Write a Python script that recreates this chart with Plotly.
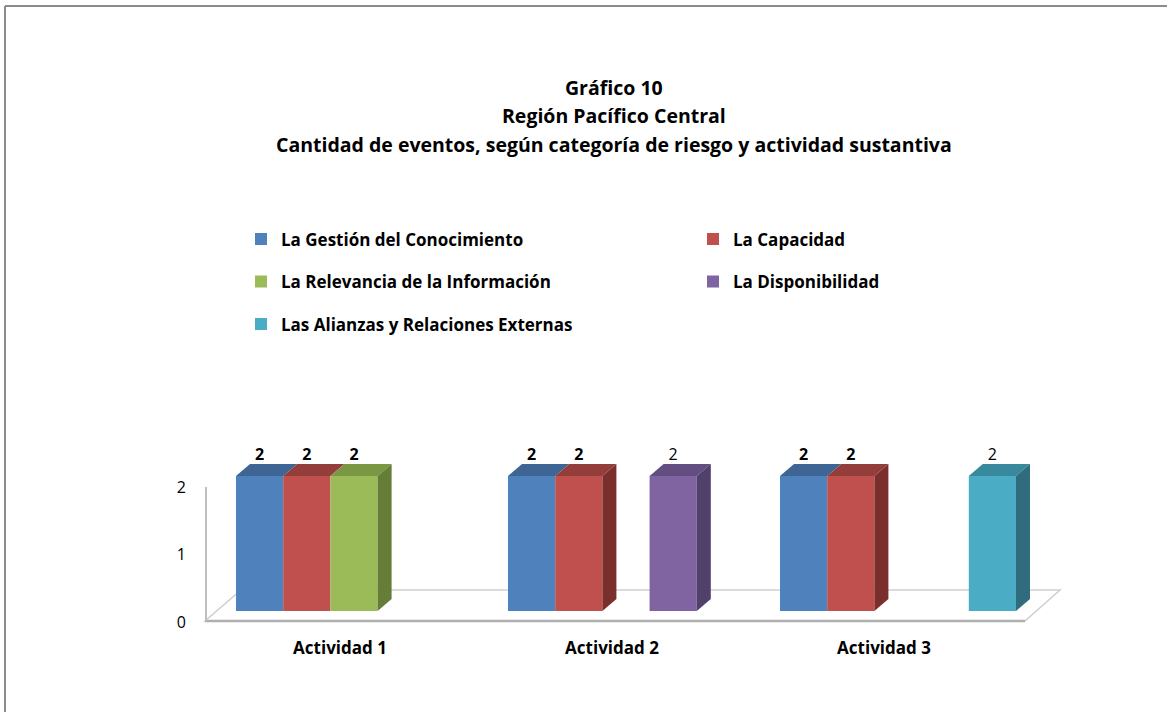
import plotly.graph_objects as go

# ---------------- data ----------------
categories = ["Actividad 1", "Actividad 2", "Actividad 3"]
series_names = [
    "La Gestión del Conocimiento",
    "La Capacidad",
    "La Relevancia de la Información",
    "La Disponibilidad",
    "Las Alianzas y Relaciones Externas",
]
gestion = [2, 2, 2]
capacidad = [2, 2, 2]
relevancia = [2, None, None]
disponibilidad = [None, 2, None]
alianzas = [None, None, 2]
series_values = [gestion, capacidad, relevancia, disponibilidad, alianzas]
y_ticks = [0, 1, 2]

# ---------------- style ----------------
front_colors = ["#4F81BD", "#C0504D", "#9BBB59", "#8064A2", "#4BACC6"]
top_colors = ["#3E6593", "#943E3C", "#7A9744", "#634E82", "#38889E"]
side_colors = ["#355580", "#7A2F2D", "#667D37", "#51406A", "#2F6C7D"]
label_bold = [True, True, True, False, False]
legend_of = ["legend", "legend2", "legend", "legend2", "legend"]
FONT = "Open Sans"
LEG_SIZE = 17

W, H = 1167, 712
ML, MR, MT, MB = 218, 133, 440, 101
PW, PH = W - ML - MR, H - MT - MB
Y_TOP = 2.533
BARGAP = 0.1324
n = len(series_values)
group = 1 - BARGAP
slot = group / n
# depth of the 3D effect, in axis units (14 px right, 12 px up)
DX = 14 / (PW / 3)
DY = 12 / (PH / Y_TOP)


def px_x(px):
    return (px - ML) / PW


def px_y(py):
    return (H - MB - py) / PH


fig = go.Figure()
xpos = list(range(len(categories)))

# front faces (real bars)
for i, (name, vals) in enumerate(zip(series_names, series_values)):
    fig.add_trace(go.Bar(
        x=xpos, y=vals, name=name,
        marker=dict(color=front_colors[i], line=dict(width=0)),
        legend=legend_of[i], legendgroup=name,
        hoverinfo="skip",
    ))

# 3D top / side faces and value labels derived from the same data
for i, vals in enumerate(series_values):
    tx, ty, sx, sy, lx, ly, lt = [], [], [], [], [], [], []
    for j, v in enumerate(vals):
        if v is None:
            continue
        L = j - group / 2 + i * slot
        R = L + slot
        tx += [L, R, R + DX, L + DX, L, None]
        ty += [v, v, v + DY, v + DY, v, None]
        nxt = series_values[i + 1][j] if i + 1 < n else None
        if nxt is None:
            sx += [R, R + DX, R + DX, R, R, None]
            sy += [0, DY, v + DY, v, 0, None]
        lx.append((L + R) / 2)
        ly.append(v + DY)
        lt.append(("<b>%g</b>" if label_bold[i] else "%g") % v)
    fig.add_trace(go.Scatter(x=tx, y=ty, mode="lines", fill="toself",
                             fillcolor=top_colors[i], line=dict(width=0),
                             showlegend=False, hoverinfo="skip"))
    if sx:
        fig.add_trace(go.Scatter(x=sx, y=sy, mode="lines", fill="toself",
                                 fillcolor=side_colors[i], line=dict(width=0),
                                 showlegend=False, hoverinfo="skip"))
    fig.add_trace(go.Scatter(
        x=lx, y=ly, mode="text", text=lt,
        textposition="top center",
        textfont=dict(family=FONT, size=16, color="black"),
        showlegend=False, hoverinfo="skip", cliponaxis=False,
    ))

# floor, wall and frame decorations
line_grey = "#BFBFBF"
shapes = [
    dict(type="path", xref="paper", yref="paper", layer="below",
         path=f"M{px_x(205)},{px_y(621)} L{px_x(1025)},{px_y(621)} L{px_x(1060)},{px_y(590)} L{px_x(241)},{px_y(590)} Z",
         line=dict(color="#CFCFCF", width=1.5), fillcolor="rgba(0,0,0,0)"),
    dict(type="line", xref="paper", yref="paper", layer="below",
         x0=px_x(205), x1=px_x(1025), y0=px_y(621), y1=px_y(621),
         line=dict(color="#B0B0B0", width=2.5)),
    dict(type="line", xref="paper", yref="paper", layer="below",
         x0=px_x(206), x1=px_x(206), y0=px_y(487), y1=px_y(621),
         line=dict(color=line_grey, width=2)),
    dict(type="line", xref="paper", yref="paper",
         x0=px_x(5), x1=px_x(5), y0=px_y(6), y1=px_y(712),
         line=dict(color="#8C8C8C", width=2)),
    dict(type="line", xref="paper", yref="paper",
         x0=px_x(5), x1=px_x(1167), y0=px_y(6), y1=px_y(6),
         line=dict(color="#8C8C8C", width=2)),
]

title_lines = [
    ("Gráfico 10", 87),
    ("Región Pacífico Central", 115),
    ("Cantidad de eventos, según categoría de riesgo y actividad sustantiva", 144),
]
annotations = [
    dict(text=f"<b>{t}</b>", xref="paper", yref="paper", x=px_x(614), y=px_y(yy),
         xanchor="center", yanchor="middle", showarrow=False,
         font=dict(family=FONT, size=19.5, color="black"))
    for t, yy in title_lines
]

item_h = LEG_SIZE * 1.3 + 3
legend_common = dict(
    orientation="v", xanchor="left", yanchor="top",
    font=dict(family=FONT, size=LEG_SIZE, color="black", weight="bold"),
    traceorder="grouped", tracegroupgap=max(0, 42.5 - item_h),
    bgcolor="rgba(0,0,0,0)", borderwidth=0,
)
leg_top = 239 - 5 - item_h / 2

fig.update_layout(
    width=W, height=H,
    margin=dict(l=ML, r=MR, t=MT, b=MB),
    paper_bgcolor="white", plot_bgcolor="rgba(0,0,0,0)",
    barmode="group", bargap=BARGAP, bargroupgap=0,
    font=dict(family=FONT, color="black"),
    xaxis=dict(range=[-0.5, 2.5], tickmode="array", tickvals=xpos,
               ticktext=[f"<b>{c}</b>" for c in categories],
               showgrid=False, zeroline=False, showline=False, ticks="",
               tickfont=dict(family=FONT, size=17, color="black"),
               ticklabelstandoff=25, ticklabelshift=-14, fixedrange=True),
    yaxis=dict(range=[0, Y_TOP], tickmode="array", tickvals=y_ticks,
               showgrid=False, zeroline=False, showline=False, ticks="",
               tickfont=dict(family=FONT, size=16, color="black"),
               ticklabelstandoff=31, ticklabelshift=11, fixedrange=True),
    legend=dict(x=px_x(241), y=px_y(leg_top), **legend_common),
    legend2=dict(x=px_x(693), y=px_y(leg_top), **legend_common),
    shapes=shapes,
    annotations=annotations,
)

fig.write_html("out.html", config={"displayModeBar": False},
               post_script="document.body.style.margin='0';")
